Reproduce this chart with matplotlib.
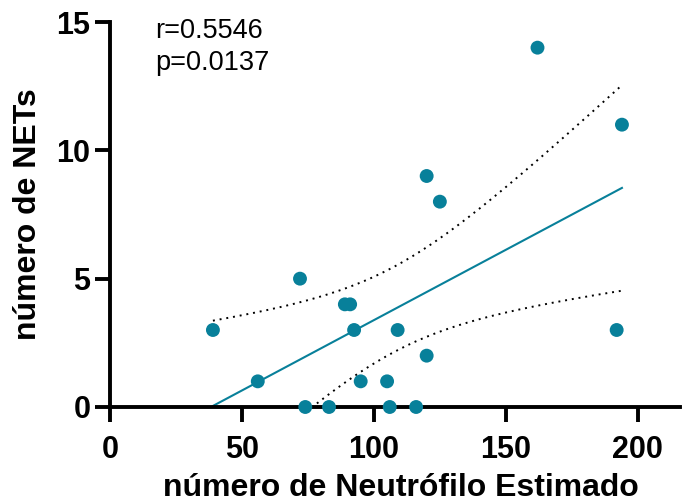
import numpy as np
import matplotlib
matplotlib.use("Agg")
import matplotlib.pyplot as plt

# Data
neutrofilos = [39, 56, 72, 74, 83, 89, 91, 92.5, 95, 105, 106, 109, 116, 120, 120, 125, 162, 192, 194]
nets = [3, 1, 5, 0, 0, 4, 4, 3, 1, 1, 0, 3, 0, 9, 2, 8, 14, 3, 11]
x_ticks = [0, 50, 100, 150, 200]
y_ticks = [0, 5, 10, 15]
stats_lines = ["r=0.5546", "p=0.0137"]

teal = "#08809a"
plt.rcParams['font.family'] = ['Liberation Sans', 'DejaVu Sans']

x = np.array(neutrofilos, dtype=float)
y = np.array(nets, dtype=float)
n = len(x)
slope, intercept = np.polyfit(x, y, 1)
xs = np.linspace(x.min(), x.max(), 200)
yfit = slope * xs + intercept
resid = y - (slope * x + intercept)
s = np.sqrt(np.sum(resid ** 2) / (n - 2))
tcrit = 2.1098  # t(0.975, df=17)
se = s * np.sqrt(1 / n + (xs - x.mean()) ** 2 / np.sum((x - x.mean()) ** 2))

fig = plt.figure(figsize=(6.82, 5.03), dpi=100)
ax = fig.add_axes([110 / 682, 1 - 407 / 503, 570 / 682, 385 / 503])

ax.plot(xs, yfit, color=teal, lw=1.5, zorder=2)
ax.plot(xs, yfit + tcrit * se, color='black', lw=1.4, ls=(0, (1, 2.5)), zorder=2)
ax.plot(xs, yfit - tcrit * se, color='black', lw=1.4, ls=(0, (1, 2.5)), zorder=2)
ax.scatter(x, y, s=100, color=teal, edgecolors='none', zorder=3, clip_on=False)

ax.set_xlim(0, 216)
ax.set_ylim(0, 15)
ax.set_xticks(x_ticks)
ax.set_yticks(y_ticks)
for sp in ['top', 'right']:
    ax.spines[sp].set_visible(False)
for sp in ['left', 'bottom']:
    ax.spines[sp].set_linewidth(2.8)
ax.tick_params(axis='both', direction='out', length=11, width=2.8, labelsize=22)
ax.tick_params(axis='x', pad=9)
ax.tick_params(axis='y', pad=3)
for lab in ax.get_xticklabels() + ax.get_yticklabels():
    lab.set_fontweight('bold')

fig.text(401 / 682, 1 - 488 / 503, "número de Neutrófilo Estimado", fontsize=23,
         fontweight='bold', ha='center', va='center')
fig.text(28 / 682, 1 - 214 / 503, "número de NETs", fontsize=23, fontweight='bold',
         ha='center', va='center', rotation=90)

fig.text(155 / 682, 1 - 31 / 503, stats_lines[0], fontsize=19.5, va='center', ha='left')
fig.text(155 / 682, 1 - 63 / 503, stats_lines[1], fontsize=19.5, va='center', ha='left')

fig.savefig("out.png", dpi=100)
